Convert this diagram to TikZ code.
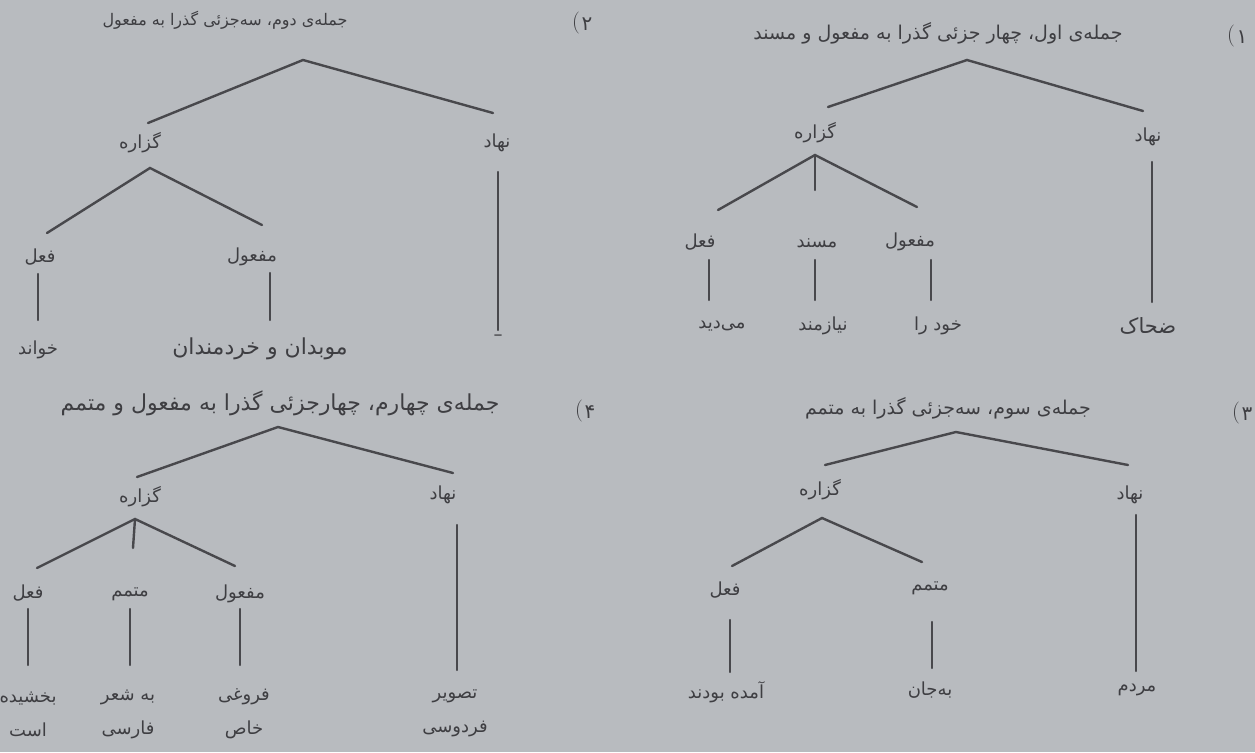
\documentclass[tikz,border=0pt]{standalone}
\usepackage{fontspec}
\TeXXeTstate=1
\newfontfamily\fa[Script=Arabic]{DejaVu Sans}
\definecolor{bg}{RGB}{184,187,191}
\definecolor{ink}{RGB}{62,62,66}
\definecolor{edgecol}{RGB}{72,72,76}
\newcommand{\fat}[1]{{\fa\beginR #1\endR}}
\tikzset{
  lab/.style={font=\fa\fontsize{18}{20}\selectfont, text=ink, inner sep=0pt, align=center},
  ttl/.style={font=\fa\fontsize{19}{21}\selectfont, text=ink, inner sep=0pt},
  num/.style={font=\fa\fontsize{20}{22}\selectfont, text=ink, inner sep=0pt},
  par/.style={font=\fontsize{22}{24}\selectfont, text=ink, inner sep=0pt},
  br/.style={draw=edgecol, line width=2.4pt, line cap=round}
}
\begin{document}
\begin{tikzpicture}[x=1pt,y=-1pt]
\useasboundingbox (0,0) rectangle (1255,752);
\fill[bg] (0,0) rectangle (1255,752);

% ---------- Tree 1 (top right) ----------
\node[ttl] (t1) at (938,33) {\fat{جمله‌ی اول، چهار جزئی گذرا به مفعول و مسند}};
\node[num] (n1) at (1242,37) {۱};
\node[par] (p1) at (1231,36) {(};
\coordinate (a1) at (967,60);
\coordinate (a1l) at (828,107);
\coordinate (a1r) at (1143,111);
\node[lab] (g1) at (815,133) {\fat{گزاره}};
\node[lab] (h1) at (1148,137) {\fat{نهاد}};
\coordinate (b1) at (815,155);
\coordinate (b1l) at (718,210);
\coordinate (b1m) at (815,190);
\coordinate (b1r) at (917,207);
\node[lab] (f1) at (700,242) {\fat{فعل}};
\node[lab] (m1) at (817,243) {\fat{مسند}};
\node[lab] (o1) at (910,242) {\fat{مفعول}};
\coordinate (f1s) at (709,260); \coordinate (f1e) at (709,300);
\coordinate (m1s) at (815,260); \coordinate (m1e) at (815,300);
\coordinate (o1s) at (931,260); \coordinate (o1e) at (931,300);
\coordinate (h1s) at (1152,162); \coordinate (h1e) at (1152,302);
\node[lab] (lf1) at (722,326) {\fat{می‌دید}};
\node[lab] (lm1) at (823,326) {\fat{نیازمند}};
\node[lab] (lo1) at (938,326) {\fat{خود را}};
\node[lab, font=\fa\fontsize{21}{23}\selectfont] (lh1) at (1148,326) {\fat{ضحاک}};
\draw[br] (a1l) -- (a1) -- (a1r);
\draw[br] (b1l) -- (b1) -- (b1r);
\draw[br] (b1) -- (b1m);
\draw[br] (f1s) -- (f1e);
\draw[br] (m1s) -- (m1e);
\draw[br] (o1s) -- (o1e);
\draw[br] (h1s) -- (h1e);

% ---------- Tree 2 (top left) ----------
\node[ttl, font=\fa\fontsize{16}{18}\selectfont] (t2) at (225,20) {\fat{جمله‌ی دوم، سه‌جزئی گذرا به مفعول}};
\node[num] (n2) at (587,24) {۲};
\node[par] (p2) at (576,23) {(};
\coordinate (a2) at (303,60);
\coordinate (a2l) at (148,123);
\coordinate (a2r) at (493,113);
\node[lab] (g2) at (140,143) {\fat{گزاره}};
\node[lab] (h2) at (497,143) {\fat{نهاد}};
\coordinate (b2) at (150,168);
\coordinate (b2l) at (47,233);
\coordinate (b2r) at (262,225);
\node[lab] (f2) at (40,257) {\fat{فعل}};
\node[lab] (o2) at (252,257) {\fat{مفعول}};
\coordinate (f2s) at (38,274); \coordinate (f2e) at (38,320);
\coordinate (o2s) at (270,273); \coordinate (o2e) at (270,320);
\coordinate (h2s) at (498,172); \coordinate (h2e) at (498,330);
\node[lab] (lf2) at (38,350) {\fat{خواند}};
\node[lab, font=\fa\fontsize{22}{24}\selectfont] (lo2) at (260,349) {\fat{موبدان و خردمندان}};
\node[lab] (lh2) at (498,338) {–};
\draw[br] (a2l) -- (a2) -- (a2r);
\draw[br] (b2l) -- (b2) -- (b2r);
\draw[br] (f2s) -- (f2e);
\draw[br] (o2s) -- (o2e);
\draw[br] (h2s) -- (h2e);

% ---------- Tree 3 (bottom right) ----------
\node[ttl] (t3) at (948,408) {\fat{جمله‌ی سوم، سه‌جزئی گذرا به متمم}};
\node[num] (n3) at (1247,414) {۳};
\node[par] (p3) at (1236,413) {(};
\coordinate (a3) at (956,432);
\coordinate (a3l) at (825,465);
\coordinate (a3r) at (1128,465);
\node[lab] (g3) at (820,490) {\fat{گزاره}};
\node[lab] (h3) at (1130,495) {\fat{نهاد}};
\coordinate (b3) at (822,518);
\coordinate (b3l) at (732,566);
\coordinate (b3r) at (922,562);
\node[lab] (f3) at (725,590) {\fat{فعل}};
\node[lab] (c3) at (930,588) {\fat{متمم}};
\coordinate (f3s) at (730,620); \coordinate (f3e) at (730,672);
\coordinate (c3s) at (932,622); \coordinate (c3e) at (932,668);
\coordinate (h3s) at (1136,515); \coordinate (h3e) at (1136,671);
\node[lab] (lf3) at (726,692) {\fat{آمده بودند}};
\node[lab] (lc3) at (930,690) {\fat{به‌جان}};
\node[lab] (lh3) at (1137,690) {\fat{مردم}};
\draw[br] (a3l) -- (a3) -- (a3r);
\draw[br] (b3l) -- (b3) -- (b3r);
\draw[br] (f3s) -- (f3e);
\draw[br] (c3s) -- (c3e);
\draw[br] (h3s) -- (h3e);

% ---------- Tree 4 (bottom left) ----------
\node[ttl, font=\fa\fontsize{22}{24}\selectfont] (t4) at (280,403) {\fat{جمله‌ی چهارم، چهارجزئی گذرا به مفعول و متمم}};
\node[num] (n4) at (590,412) {۴};
\node[par] (p4) at (579,411) {(};
\coordinate (a4) at (278,427);
\coordinate (a4l) at (137,477);
\coordinate (a4r) at (453,473);
\node[lab] (g4) at (140,497) {\fat{گزاره}};
\node[lab] (h4) at (443,495) {\fat{نهاد}};
\coordinate (b4) at (135,519);
\coordinate (b4l) at (37,568);
\coordinate (b4m) at (133,548);
\coordinate (b4r) at (235,566);
\node[lab] (f4) at (28,593) {\fat{فعل}};
\node[lab] (c4) at (130,594) {\fat{متمم}};
\node[lab] (o4) at (240,594) {\fat{مفعول}};
\coordinate (f4s) at (28,609); \coordinate (f4e) at (28,665);
\coordinate (c4s) at (130,609); \coordinate (c4e) at (130,665);
\coordinate (o4s) at (240,609); \coordinate (o4e) at (240,665);
\coordinate (h4s) at (457,525); \coordinate (h4e) at (457,670);
\node[lab] (lf4) at (28,714) {\fat{بخشیده}\\[14pt]\fat{است}};
\node[lab] (lc4) at (128,714) {\fat{به شعر}\\[14pt]\fat{فارسی}};
\node[lab] (lo4) at (244,714) {\fat{فروغی}\\[14pt]\fat{خاص}};
\node[lab] (lh4) at (455,713) {\fat{تصویر}\\[14pt]\fat{فردوسی}};
\draw[br] (a4l) -- (a4) -- (a4r);
\draw[br] (b4l) -- (b4) -- (b4r);
\draw[br] (b4) -- (b4m);
\draw[br] (f4s) -- (f4e);
\draw[br] (c4s) -- (c4e);
\draw[br] (o4s) -- (o4e);
\draw[br] (h4s) -- (h4e);
\end{tikzpicture}
\end{document}
